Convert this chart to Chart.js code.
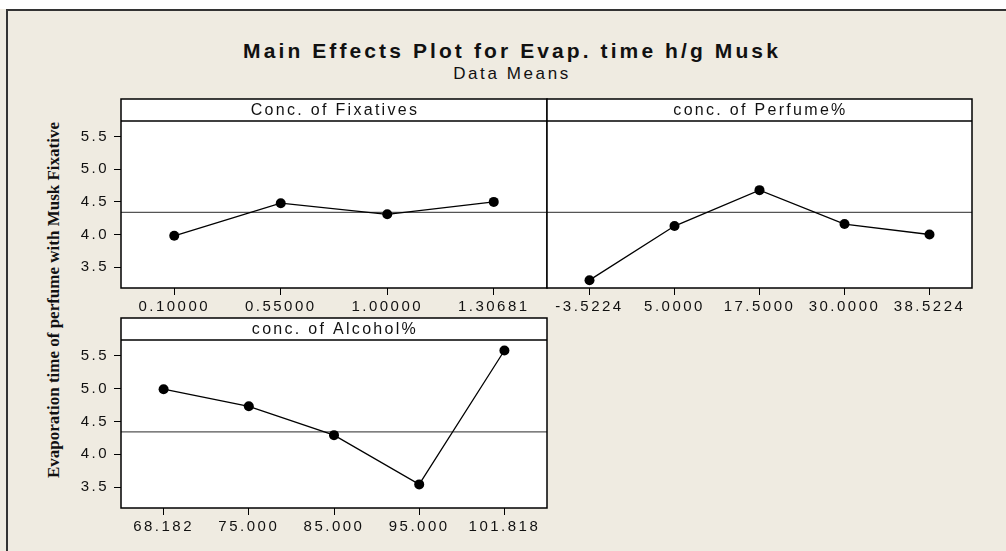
<!DOCTYPE html>
<html>
<head>
<meta charset="utf-8">
<script src="https://cdn.jsdelivr.net/npm/chart.js@4.4.1/dist/chart.umd.min.js"></script>
<style>
    html, body { margin: 0; padding: 0; background: #ffffff; }
    #page { position: relative; width: 1006px; height: 551px; background: #efebe1; overflow: hidden; }
    #topEdge { position: absolute; left: 0; top: 0; width: 1006px; height: 9px; background: #ffffff; }
    #topLine { position: absolute; left: 6px; top: 9px; width: 1000px; height: 2px; background: #333333; }
    #leftLine { position: absolute; left: 6px; top: 9px; width: 2px; height: 542px; background: #333333; }
    .title { position: absolute; left: 9px; width: 1006px; text-align: center; color: #111;
             font-family: "Liberation Sans", Arial, sans-serif; white-space: nowrap; }
    #mainTitle { top: 40px; font-size: 21px; line-height: 21px; font-weight: bold; letter-spacing: 3.1px; }
    #subTitle { top: 65px; font-size: 17px; line-height: 17px; letter-spacing: 2.6px; }
    #yTitle { position: absolute; left: 54px; top: 300px; transform: translate(-50%, -50%) rotate(-90deg);
              font-family: "Liberation Serif", "Times New Roman", serif; font-weight: bold; font-size: 17px;
              color: #111; white-space: nowrap; }
    canvas { position: absolute; left: 0; top: 0; }
</style>
</head>
<body>
<div id="page">
    <div id="topEdge"></div>
    <div id="topLine"></div>
    <div id="leftLine"></div>
    <div class="title" id="mainTitle">Main Effects Plot for Evap. time h/g Musk</div>
    <div class="title" id="subTitle">Data Means</div>
    <div id="yTitle">Evaporation time of perfume with Musk Fixative</div>
    <canvas id="fixChart" width="1006" height="551"></canvas>
    <canvas id="perfChart" width="1006" height="551"></canvas>
    <canvas id="alcChart" width="1006" height="551"></canvas>
</div>
<script>
const fixativeLevels = ['0.10000', '0.55000', '1.00000', '1.30681'];
const fixativeMeans = [3.98, 4.48, 4.31, 4.50];

const perfumeLevels = ['-3.5224', '5.0000', '17.5000', '30.0000', '38.5224'];
const perfumeMeans = [3.30, 4.13, 4.68, 4.16, 4.00];

const alcoholLevels = ['68.182', '75.000', '85.000', '95.000', '101.818'];
const alcoholMeans = [4.99, 4.73, 4.29, 3.54, 5.58];

const yTicks = [3.5, 4.0, 4.5, 5.0, 5.5];
const grandMean = 4.34;

const Y_MIN = 3.18;
const Y_MAX = 5.74;
const HEADER_H = 22;
const FONT = '"Liberation Sans", Arial, sans-serif';
const TICK_SPACING = '2.5px';

// white panel, header strip, grand mean reference line and box border
const panelFrame = {
    id: 'panelFrame',
    beforeUpdate(chart) {
        chart.ctx.letterSpacing = TICK_SPACING;
    },
    beforeDraw(chart) {
        const { ctx, chartArea: a } = chart;
        ctx.letterSpacing = TICK_SPACING;
        ctx.save();
        ctx.fillStyle = '#ffffff';
        ctx.fillRect(a.left, a.top - HEADER_H, a.right - a.left, a.bottom - a.top + HEADER_H);
        ctx.restore();
    },
    beforeDatasetsDraw(chart, args, opts) {
        const { ctx, chartArea: a } = chart;
        const y = chart.scales.y.getPixelForValue(opts.mean);
        ctx.save();
        ctx.strokeStyle = '#555555';
        ctx.lineWidth = 1.2;
        ctx.beginPath();
        ctx.moveTo(a.left, y);
        ctx.lineTo(a.right, y);
        ctx.stroke();
        ctx.restore();
    },
    afterDraw(chart, args, opts) {
        const { ctx, chartArea: a } = chart;
        ctx.save();
        ctx.strokeStyle = '#000000';
        ctx.lineWidth = 1.5;
        ctx.strokeRect(a.left, a.top - HEADER_H, a.right - a.left, a.bottom - a.top + HEADER_H);
        ctx.beginPath();
        ctx.moveTo(a.left, a.top);
        ctx.lineTo(a.right, a.top);
        ctx.stroke();
        ctx.fillStyle = '#111111';
        ctx.font = `16px ${FONT}`;
        ctx.letterSpacing = '2.3px';
        ctx.textAlign = 'center';
        ctx.textBaseline = 'middle';
        ctx.fillText(opts.header, (a.left + a.right) / 2 + 1, a.top - HEADER_H / 2 + 1);
        ctx.restore();
    }
};

function makePanel(canvasId, header, levels, means, padding, showY) {
    const yScale = {
        display: showY,
        min: Y_MIN,
        max: Y_MAX,
        afterBuildTicks: scale => {
            scale.ticks = yTicks.map(v => ({ value: v }));
        },
        grid: { drawOnChartArea: false, drawTicks: true, tickLength: 7, color: '#000', lineWidth: 1 },
        border: { display: false },
        ticks: {
            color: '#111',
            font: { family: FONT, size: 15 },
            padding: 5,
            callback: value => Number(value).toFixed(1)
        }
    };
    if (showY) {
        yScale.afterFit = scale => { scale.width = 60; };
    }

    return new Chart(document.getElementById(canvasId), {
        type: 'line',
        data: {
            labels: levels,
            datasets: [{
                data: means,
                borderColor: '#000',
                borderWidth: 1.3,
                pointRadius: 5,
                pointBackgroundColor: '#000',
                pointBorderWidth: 0,
                tension: 0,
                fill: false
            }]
        },
        options: {
            responsive: false,
            animation: false,
            layout: { padding: padding },
            plugins: {
                legend: { display: false },
                tooltip: { enabled: false },
                panelFrame: { header: header, mean: grandMean }
            },
            scales: {
                x: {
                    type: 'category',
                    offset: true,
                    afterFit: scale => { scale.height = 30; },
                    grid: { offset: false, drawOnChartArea: false, drawTicks: true, tickLength: 7, color: '#000' },
                    border: { display: false },
                    ticks: {
                        color: '#111',
                        font: { family: FONT, size: 15 },
                        padding: 3,
                        maxRotation: 0,
                        autoSkip: false
                    }
                },
                y: yScale
            }
        },
        plugins: [panelFrame]
    });
}

makePanel('fixChart', 'Conc. of Fixatives', fixativeLevels, fixativeMeans,
    { left: 61, right: 459, top: 121, bottom: 233 }, true);
makePanel('perfChart', 'conc. of Perfume%', perfumeLevels, perfumeMeans,
    { left: 547, right: 34, top: 121, bottom: 233 }, false);
makePanel('alcChart', 'conc. of Alcohol%', alcoholLevels, alcoholMeans,
    { left: 61, right: 459, top: 340, bottom: 13 }, true);
</script>
</body>
</html>
